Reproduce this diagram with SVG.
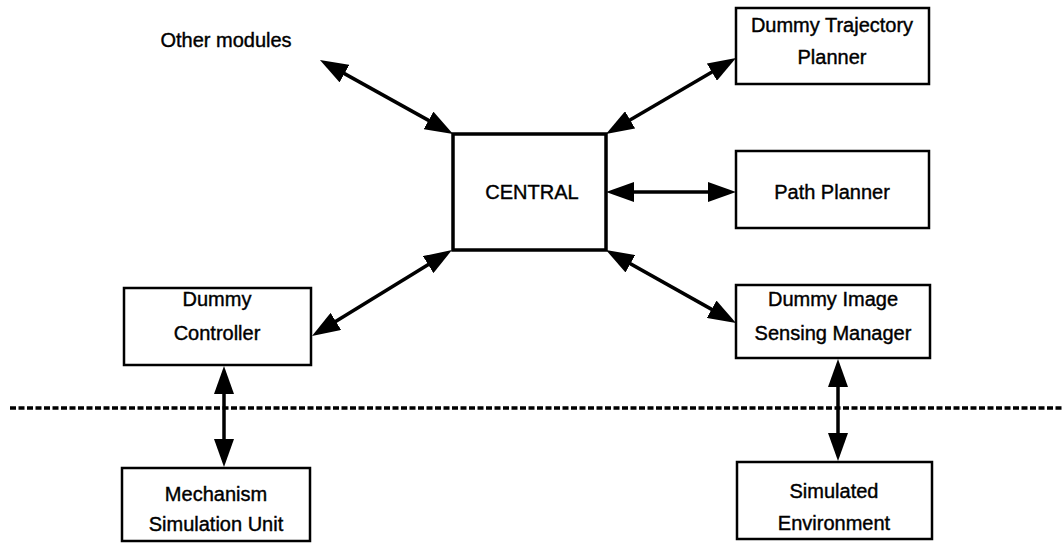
<svg xmlns="http://www.w3.org/2000/svg" width="1062" height="544" viewBox="0 0 1062 544">
  <style>
    .box { fill: #ffffff; stroke: #000000; stroke-width: 2.5; }
    .hub { fill: #ffffff; stroke: #000000; stroke-width: 3.5; }
    .lbl { font-family: "Liberation Sans", Arial, Helvetica, sans-serif; font-size: 20px; fill: #000000; stroke: #000000; stroke-width: 0.4; text-anchor: middle; }
    .link { stroke: #000000; stroke-width: 3.5; fill: none; marker-start: url(#head); marker-end: url(#head); }
    .divider { stroke: #000000; stroke-width: 3.5; stroke-dasharray: 6 2.5; fill: none; }
  </style>
  <defs>
    <marker id="head" viewBox="0 0 28 20" refX="18" refY="10" markerWidth="28" markerHeight="20" markerUnits="userSpaceOnUse" orient="auto-start-reverse">
      <path d="M0,0 L28,10 L0,20 Z" fill="#000000"/>
    </marker>
  </defs>

  <rect width="1062" height="544" fill="#ffffff"/>

  <!-- boundary between software modules and simulated hardware -->
  <line class="divider" x1="10" y1="408" x2="1062" y2="408"/>

  <g id="other-modules">
    <text class="lbl" x="226" y="47">Other modules</text>
  </g>

  <g id="central">
    <rect class="hub" x="453" y="134" width="153" height="116"/>
    <text class="lbl" x="532" y="199">CENTRAL</text>
  </g>

  <g id="trajectory-planner">
    <rect class="box" x="736" y="8" width="193" height="76"/>
    <text class="lbl" x="832" y="32">Dummy Trajectory</text>
    <text class="lbl" x="832" y="64">Planner</text>
  </g>

  <g id="path-planner">
    <rect class="box" x="736" y="151" width="193" height="77"/>
    <text class="lbl" x="832" y="199">Path Planner</text>
  </g>

  <g id="image-sensing">
    <rect class="box" x="736" y="285" width="194" height="73"/>
    <text class="lbl" x="833" y="306">Dummy Image</text>
    <text class="lbl" x="833" y="340">Sensing Manager</text>
  </g>

  <g id="controller">
    <rect class="box" x="124" y="288" width="187" height="77"/>
    <text class="lbl" x="217" y="306">Dummy</text>
    <text class="lbl" x="217" y="340">Controller</text>
  </g>

  <g id="mechanism-sim">
    <rect class="box" x="122" y="468" width="188" height="73"/>
    <text class="lbl" x="216" y="501">Mechanism</text>
    <text class="lbl" x="216" y="531">Simulation Unit</text>
  </g>

  <g id="simulated-env">
    <rect class="box" x="737" y="462" width="195" height="77"/>
    <text class="lbl" x="834" y="498">Simulated</text>
    <text class="lbl" x="834" y="530">Environment</text>
  </g>

  <g id="connectors">
    <line class="link" x1="328.7" y1="64.9" x2="444.3" y2="129.1"/>
    <line class="link" x1="614.6" y1="129.0" x2="727.4" y2="63.0"/>
    <line class="link" x1="616" y1="192" x2="726" y2="192"/>
    <line class="link" x1="614.7" y1="254.9" x2="727.3" y2="318.1"/>
    <line class="link" x1="443.5" y1="255.2" x2="320.5" y2="330.8"/>
    <line class="link" x1="224" y1="376" x2="224" y2="457"/>
    <line class="link" x1="838" y1="369" x2="838" y2="451"/>
  </g>
</svg>
